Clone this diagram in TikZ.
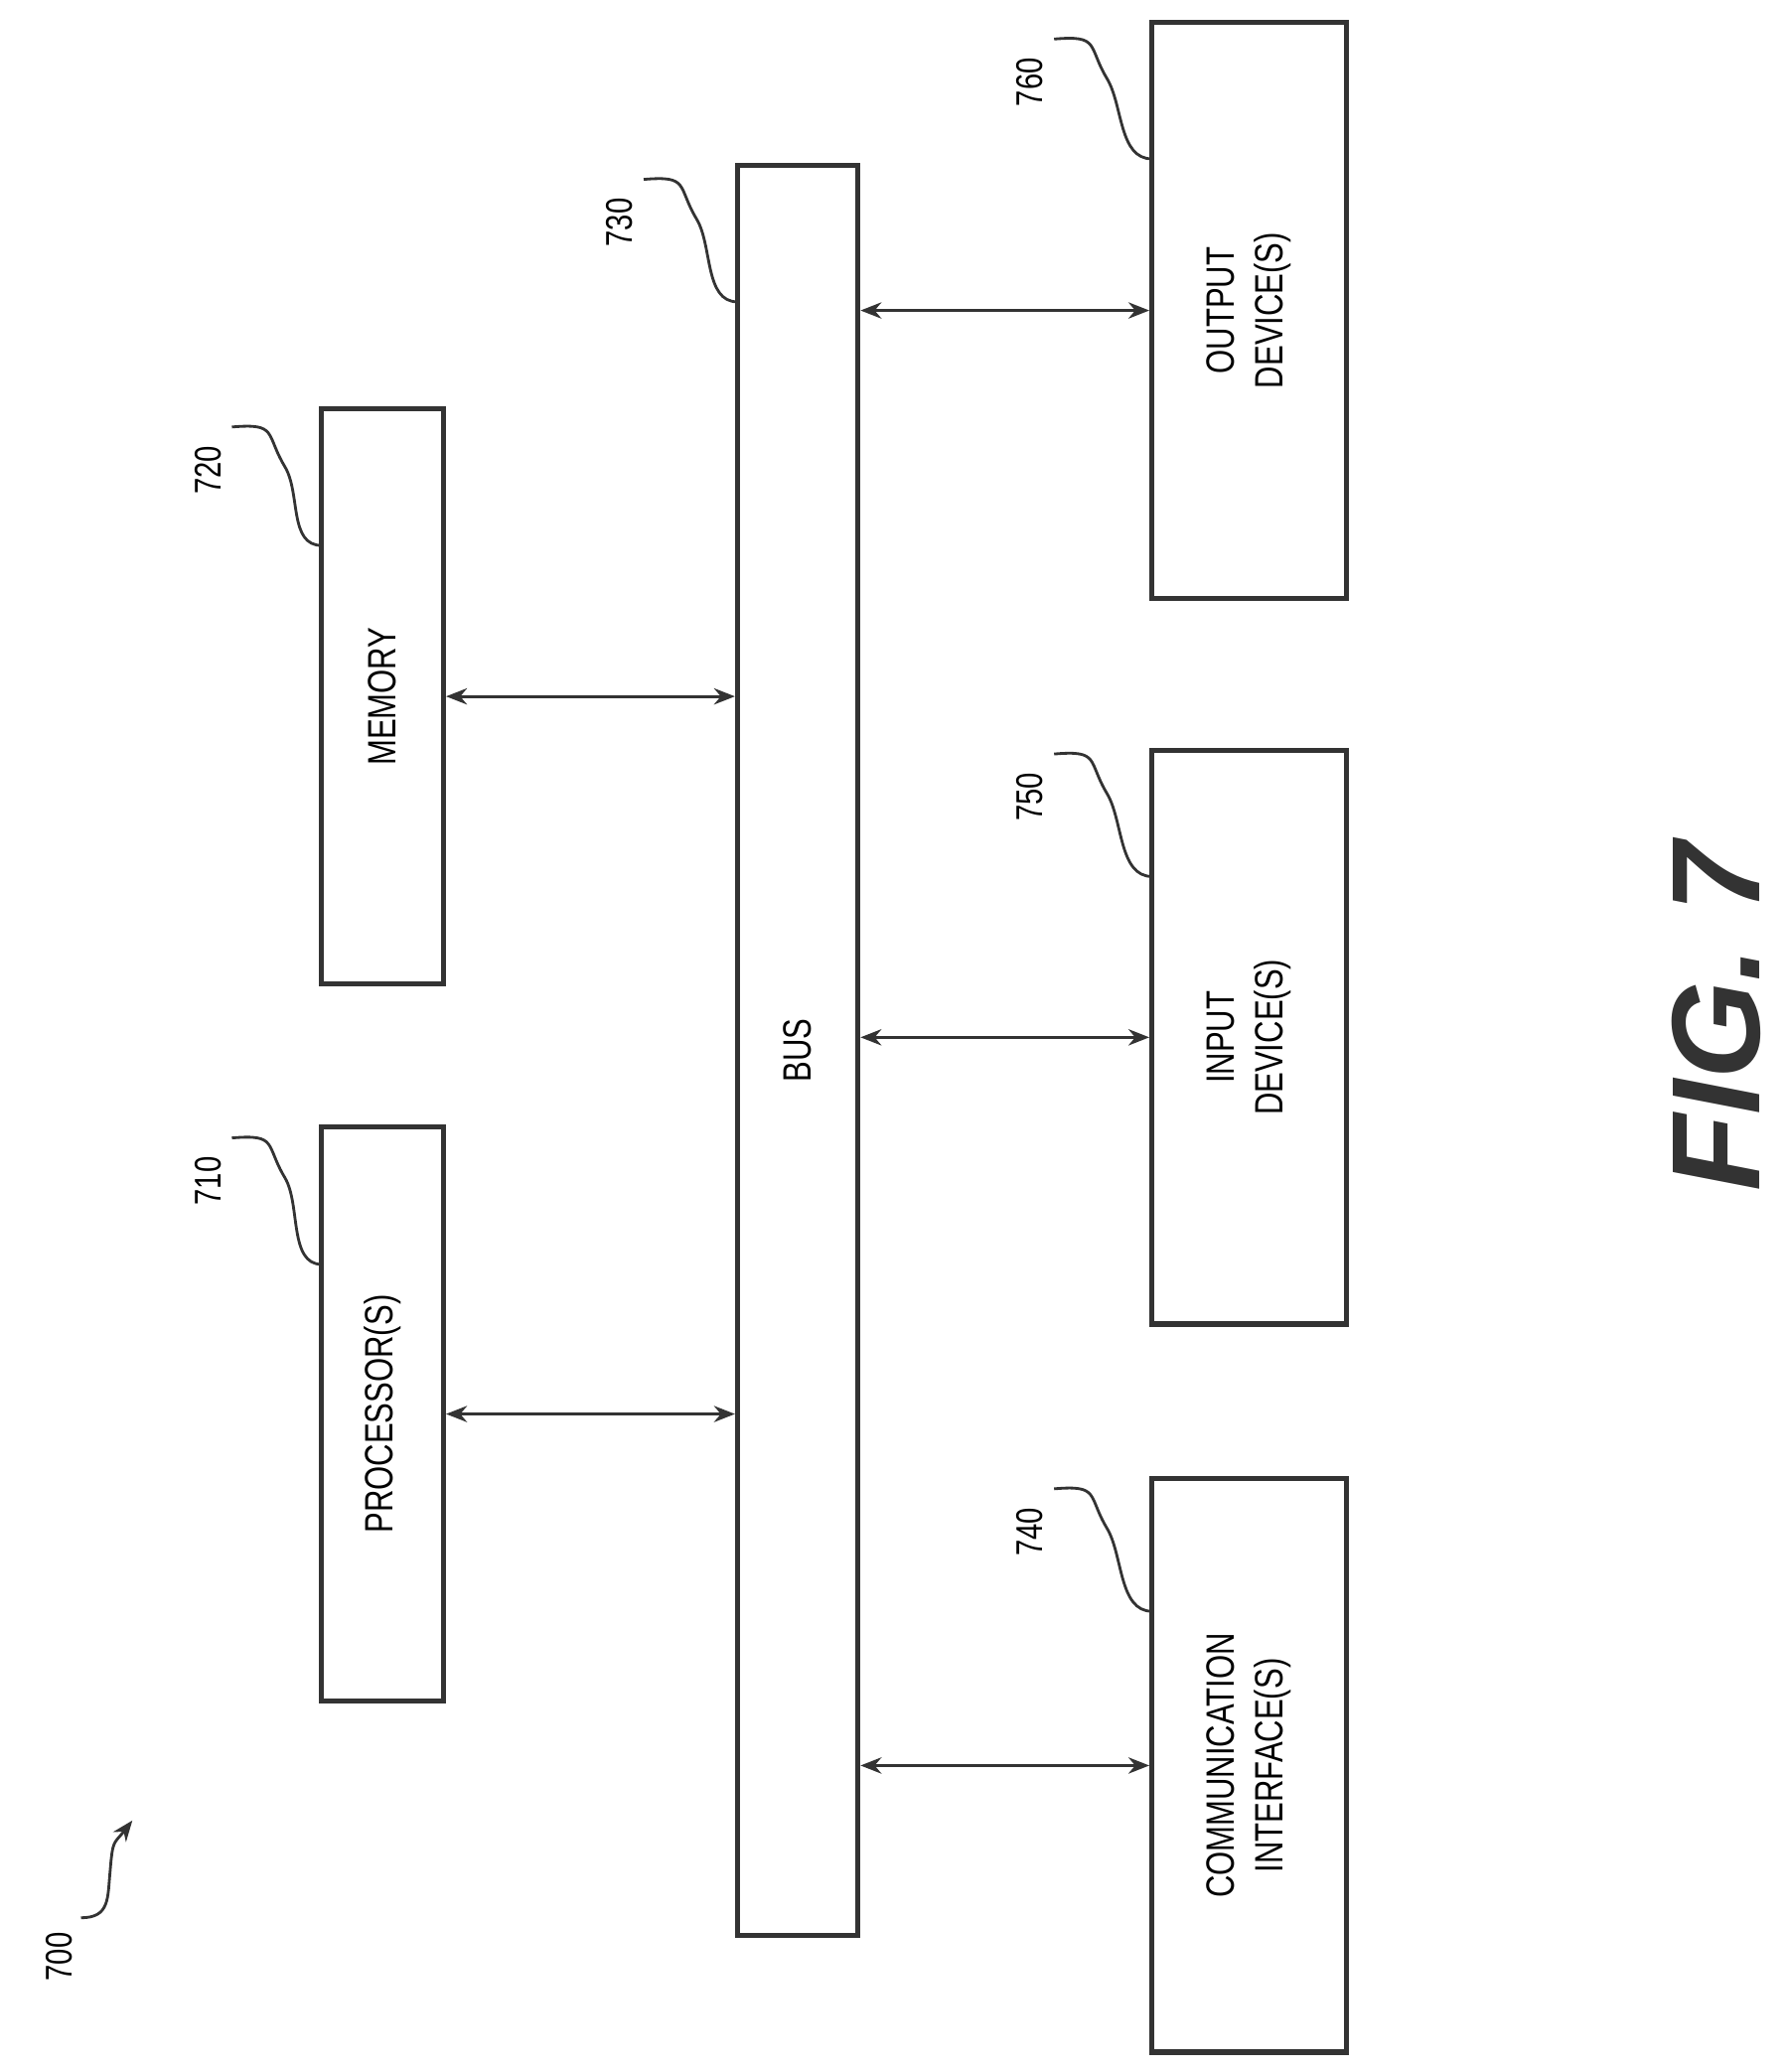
\documentclass[tikz,border=0pt]{standalone}
\usepackage{fontspec}
\setmainfont{Liberation Sans}[FakeStretch=0.78]
\newfontfamily\figfont{Liberation Sans}
\usetikzlibrary{arrows.meta}
\begin{document}
\begin{tikzpicture}[x=0.02cm,y=-0.02cm,
  box/.style={draw=black!80,line width=2.2pt,rotate=90,inner sep=0pt,align=center,font=\fontsize{17}{21}\selectfont},
  conn/.style={draw=black!80,line width=1.2pt,{Stealth[length=9pt,width=7pt]}-{Stealth[length=9pt,width=7pt]}},
  lbl/.style={rotate=90,font=\fontsize{16}{20}\selectfont},
  sq/.style={draw=black!80,line width=1.2pt}]
\useasboundingbox (0,0) rectangle (1350,1565);
\node[box,minimum width=0.02cm*434,minimum height=0.02cm*92] (proc) at (289,1068) {PROCESSOR(S)};
\node[box,minimum width=0.02cm*434,minimum height=0.02cm*92] (mem) at (289,526) {MEMORY};
\node[box,minimum width=0.02cm*1337,minimum height=0.02cm*91] (bus) at (602.5,793.5) {BUS};
\node[box,minimum width=0.02cm*435,minimum height=0.02cm*147] (out) at (943.5,234.5) {OUTPUT\\DEVICE(S)};
\node[box,minimum width=0.02cm*433,minimum height=0.02cm*147] (in) at (943.5,783.5) {INPUT\\DEVICE(S)};
\node[box,minimum width=0.02cm*433,minimum height=0.02cm*147] (comm) at (943.5,1333.5) {COMMUNICATION\\INTERFACE(S)};
\draw[conn] (proc.south) -- (proc.south -| bus.north);
\draw[conn] (mem.south) -- (mem.south -| bus.north);
\draw[conn] (bus.south |- out.north) -- (out.north);
\draw[conn] (bus.south |- in.north) -- (in.north);
\draw[conn] (bus.south |- comm.north) -- (comm.north);
% labels
\node[lbl] (l720) at (157,355) {720};
\node[lbl] (l710) at (157,892) {710};
\node[lbl] (l730) at (468,168) {730};
\node[lbl] (l760) at (778,62) {760};
\node[lbl] (l750) at (778,602) {750};
\node[lbl] (l740) at (778,1157) {740};
\node[lbl] (l700) at (45,1478) {700};
\coordinate (c720) at (243,412);
\coordinate (c710) at (243,955);
\coordinate (c730) at (557,228);
\coordinate (c760) at (870,120);
\coordinate (c750) at (870,662);
\coordinate (c740) at (870,1217);
\coordinate (c700) at (100,1375);
\foreach \a/\b in {l720/c720,l710/c710,l730/c730,l760/c760,l750/c750,l740/c740}{
  \draw[sq] (\a.south east) ++(2,-8) .. controls +(35,-3) and +(-15,-25) .. ++(40,30) .. controls +(12,20) and +(-25,0) .. (\b);
}
\draw[sq,-{Stealth[length=9pt,width=7pt]}] (l700.south east) ++(0,-5) .. controls +(22,0) and +(-2,20) .. ++(22,-35) .. controls +(2,-25) and +(-14,18) .. (c700);
\node[rotate=90,font=\figfont\fontsize{54}{60}\selectfont\bfseries\itshape,text=black!80] (fig) at (1296,768) {FIG. 7};
\end{tikzpicture}
\end{document}
